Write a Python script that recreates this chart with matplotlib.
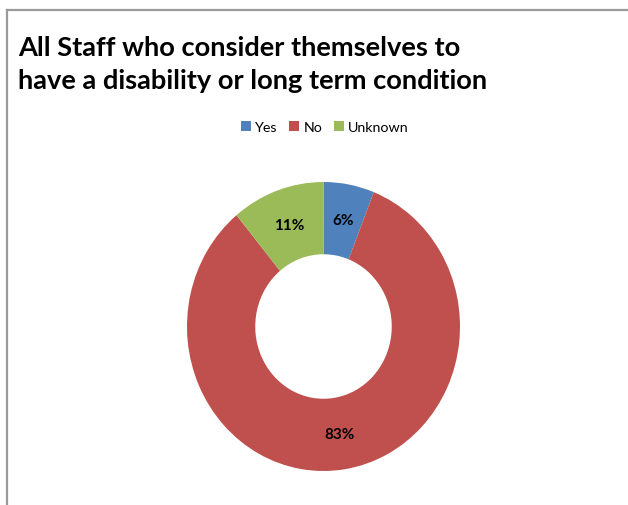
import matplotlib.pyplot as plt
from matplotlib.patches import Patch
from matplotlib.lines import Line2D

categories = ["Yes", "No", "Unknown"]
shares = [6, 83, 11]
colors = ["#4F81BD", "#C0504D", "#9BBB59"]
title_lines = ["All Staff who consider themselves to",
               "have a disability or long term condition"]

W, H = 628, 506
fig = plt.figure(figsize=(W / 100, H / 100), dpi=100)
fig.patch.set_facecolor("white")

# chart frame: only the top and left edges are visible
fig.add_artist(Line2D([7 / W, 7 / W], [0, 1 - 10.5 / H], transform=fig.transFigure,
                      color="#9a9a9a", lw=1.6))
fig.add_artist(Line2D([7 / W, 1], [1 - 10.5 / H, 1 - 10.5 / H], transform=fig.transFigure,
                      color="#9a9a9a", lw=1.6))

fig.text(18 / W, 1 - 56 / H, title_lines[0], fontsize=19.6, fontweight="bold",
         family="Lato", ha="left", va="baseline")
fig.text(18 / W, 1 - 89 / H, title_lines[1], fontsize=19.6, fontweight="bold",
         family="Lato", ha="left", va="baseline")

# donut, slightly taller than wide
ax = fig.add_axes([187 / W, 34 / H, 273 / W, 289 / H])
wedges, texts, autotexts = ax.pie(
    shares, colors=colors, startangle=90, counterclock=False,
    autopct=lambda p: f"{p:.0f}%", pctdistance=0.75,
    wedgeprops=dict(width=0.5, linewidth=0),
    textprops=dict(fontsize=11, fontweight="bold", family="Lato", color="black"),
)
ax.set_aspect("auto")
ax.set_xlim(-1, 1)
ax.set_ylim(-1, 1)
ax.axis("off")

handles = [Patch(facecolor=c, edgecolor="none") for c in colors]
fig.legend(handles, categories, loc="center", bbox_to_anchor=(325 / W, 1 - 128 / H),
           ncol=3, frameon=False, prop=dict(family="Lato", size=10.3),
           handlelength=0.7, handleheight=0.7, handletextpad=0.3, columnspacing=0.8)

fig.savefig("out.png", dpi=100, facecolor="white")
